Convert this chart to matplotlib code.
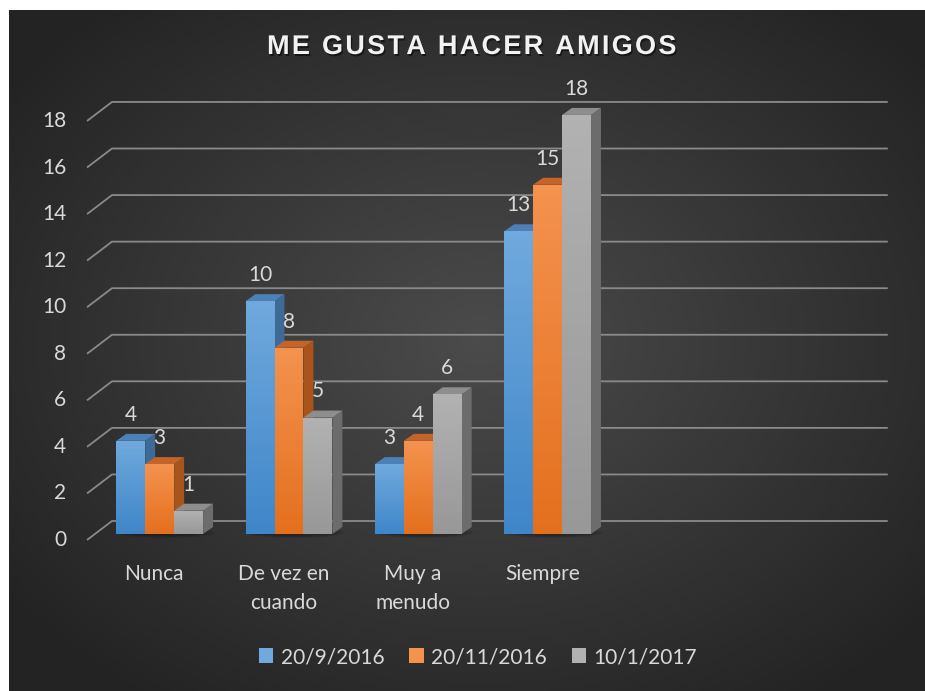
import numpy as np
import matplotlib
matplotlib.use("Agg")
import matplotlib.pyplot as plt
from matplotlib.patches import Polygon, Patch
import matplotlib.patheffects as pe

# Datos del gráfico
categorias = ["Nunca", "De vez en\ncuando", "Muy a\nmenudo", "Siempre"]
series = ["20/9/2016", "20/11/2016", "10/1/2017"]
v_sep2016 = [4, 10, 3, 13]
v_nov2016 = [3, 8, 4, 15]
v_ene2017 = [1, 5, 6, 18]
ticks_y = list(range(0, 20, 2))
titulo = "ME GUSTA HACER AMIGOS"

valores = [v_sep2016, v_nov2016, v_ene2017]
# (arriba del frente, abajo del frente, lateral, tapa)
colores = [
    ("#70a9dd", "#3f86c9", "#3e6a98", "#4e80b8"),
    ("#f4924f", "#e4701e", "#a8541b", "#c4642b"),
    ("#b2b2b2", "#989898", "#6c6c6c", "#8e8e8e"),
]
txt_color = "#d9d9d9"
plt.rcParams['font.family'] = ['Lato', 'DejaVu Sans']

fig = plt.figure(figsize=(9.25, 6.91), dpi=100, facecolor="white")

# Fondo oscuro con degradado radial
bg = fig.add_axes([9 / 925, 0, 916 / 925, 681 / 691])
bg.axis("off")
yy, xx = np.mgrid[0:681, 0:916]
d = np.sqrt(((xx - 470) / 560.0) ** 2 + ((yy - 330) / 420.0) ** 2)
lum = np.clip(0.295 - 0.15 * d, 0.14, 0.3)
bg.imshow(np.dstack([lum, lum, lum]), aspect="auto", interpolation="bilinear")

ax = fig.add_axes([0, 0, 1, 1])
ax.axis("off")
ax.patch.set_alpha(0)

# Profundidad del pseudo 3D (en unidades de datos)
pared_dx, pared_dy = 0.193, 0.816
frente_dx, frente_dy = 0.062, 0.26
caja_dx, caja_dy = 0.077, 0.30
ancho = 0.224
n_slots = 6

# Líneas de la cuadrícula
for t in ticks_y:
    ax.plot([-0.5, -0.5 + pared_dx, n_slots - 0.5 + pared_dx],
            [t, t + pared_dy, t + pared_dy],
            color="#8a8a8a", lw=1.3, solid_capstyle="butt", zorder=1)
    ax.text(-0.662, t, str(t), ha="right", va="center",
            fontsize=15, color=txt_color)

# Sombras bajo los grupos
for i in range(len(categorias)):
    for k, a in enumerate([0.10, 0.10, 0.12]):
        w = 0.75 - k * 0.08
        ax.add_patch(matplotlib.patches.Ellipse(
            (i + frente_dx + 0.05, frente_dy + 0.05), w, 0.45 - k * 0.1,
            color="black", alpha=a, lw=0, zorder=2))

grad = np.linspace(0, 1, 64).reshape(-1, 1)
for j, vals in enumerate(valores):
    c_top, c_bot, c_side, c_cap = colores[j]
    cmap = matplotlib.colors.LinearSegmentedColormap.from_list(
        "g%d" % j, [c_bot, c_top])
    for i, v in enumerate(vals):
        x0 = i - 1.5 * ancho + j * ancho + frente_dx
        x1 = x0 + ancho
        y0 = frente_dy
        y1 = frente_dy + v
        z = 3 + j
        lado = Polygon([(x1, y0), (x1, y1), (x1 + caja_dx, y1 + caja_dy),
                        (x1 + caja_dx, y0 + caja_dy)], closed=True,
                       facecolor=c_side, lw=0, zorder=z)
        tapa = Polygon([(x0, y1), (x1, y1), (x1 + caja_dx, y1 + caja_dy),
                        (x0 + caja_dx, y1 + caja_dy)], closed=True,
                       facecolor=c_cap, lw=0, zorder=z)
        frente = Polygon([(x0, y0), (x1, y0), (x1, y1), (x0, y1)],
                         closed=True, facecolor="none", lw=0, zorder=z)
        ax.add_patch(lado)
        ax.add_patch(tapa)
        ax.add_patch(frente)
        im = ax.imshow(grad, cmap=cmap, extent=(x0, x1, y0, y1),
                       origin="lower", aspect="auto", zorder=z)
        im.set_clip_path(frente)
        ax.text((x0 + x1) / 2, y1 + 1.12, str(v), ha="center",
                va="center", fontsize=15, color=txt_color, zorder=10)

for i, cat in enumerate(categorias):
    ax.text(i + 0.02, -1.02, cat, ha="center", va="top", fontsize=15,
            color=txt_color, linespacing=1.55)

ax.set_xlim(-1.173, 5.981)
ax.set_ylim(-6.486, 23.196)

fig.text(472 / 925, 1 - 47 / 691, "\u200a".join(titulo), ha="center",
         va="center", fontsize=19.5, fontweight="bold",
         family=["Liberation Sans", "DejaVu Sans"], color="#f2f2f2",
         path_effects=[pe.withSimplePatchShadow(offset=(1, -1.5),
                                                shadow_rgbFace="black",
                                                alpha=0.5)])

handles = [Patch(facecolor=colores[j][0], edgecolor="none")
           for j in range(len(series))]
fig.legend(handles, series, loc="center", ncol=3,
           bbox_to_anchor=(478 / 925, 1 - 657 / 691), frameon=False,
           fontsize=15, labelcolor=txt_color, handlelength=0.7,
           handleheight=0.7, handletextpad=0.35, columnspacing=1.2)

fig.savefig("out.png", dpi=100, facecolor=fig.get_facecolor())
